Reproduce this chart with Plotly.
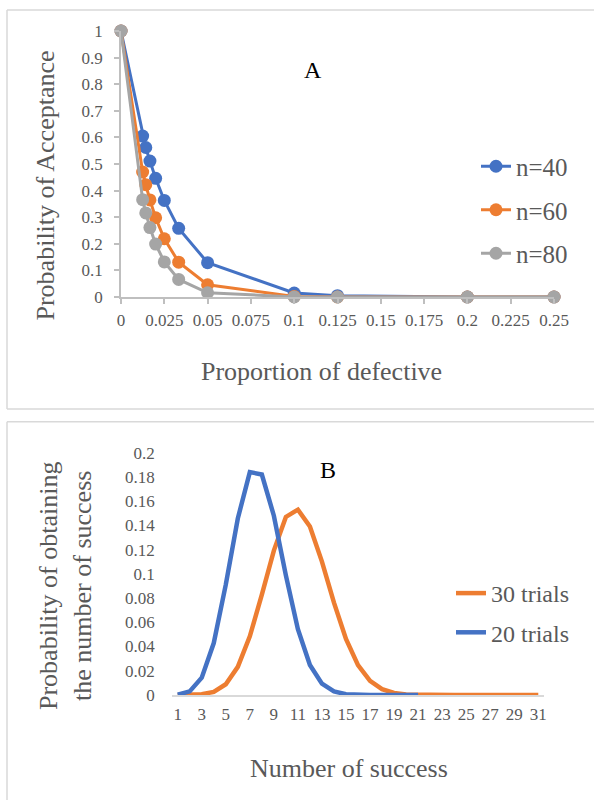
import plotly.graph_objects as go

# ---------------- Data: panel A (operating characteristic curves) ----------------
p_defective = [0, 0.0125, 0.0143, 0.0167, 0.02, 0.025, 0.0333, 0.05, 0.1, 0.125, 0.2, 0.25]
pa_n40 = [1, 0.605, 0.562, 0.511, 0.446, 0.363, 0.258, 0.129, 0.015, 0.005, 0.000, 0.000]
pa_n60 = [1, 0.470, 0.422, 0.365, 0.298, 0.219, 0.131, 0.046, 0.002, 0.000, 0.000, 0.000]
pa_n80 = [1, 0.366, 0.316, 0.261, 0.199, 0.132, 0.066, 0.016, 0.000, 0.000, 0.000, 0.000]
series_a = ["n=40", "n=60", "n=80"]
xticks_a = [0, 0.025, 0.05, 0.075, 0.1, 0.125, 0.15, 0.175, 0.2, 0.225, 0.25]
xticktext_a = ["0", "0.025", "0.05", "0.075", "0.1", "0.125", "0.15", "0.175", "0.2", "0.225", "0.25"]
yticks_a = [0, 0.1, 0.2, 0.3, 0.4, 0.5, 0.6, 0.7, 0.8, 0.9, 1]
yticktext_a = ["0", "0.1", "0.2", "0.3", "0.4", "0.5", "0.6", "0.7", "0.8", "0.9", "1"]

# ---------------- Data: panel B (binomial probabilities) ----------------
successes_30 = [1, 2, 3, 4, 5, 6, 7, 8, 9, 10, 11, 12, 13, 14, 15, 16, 17, 18, 19, 20,
                21, 22, 23, 24, 25, 26, 27, 28, 29, 30, 31]
successes_20 = [1, 2, 3, 4, 5, 6, 7, 8, 9, 10, 11, 12, 13, 14, 15, 16, 17, 18, 19, 20, 21]
prob_30 = [0.0000, 0.0001, 0.0006, 0.0026, 0.0089, 0.0232, 0.0484, 0.0829, 0.1192, 0.147,
           0.153, 0.1391, 0.1101, 0.0762, 0.0463, 0.0247, 0.0116, 0.0048, 0.0017, 0.0005,
           0.0002, 0, 0, 0, 0, 0, 0, 0, 0, 0, 0]
prob_20 = [0.0003, 0.003, 0.0143, 0.0429, 0.0911, 0.1457, 0.184, 0.182, 0.148, 0.0987,
           0.0543, 0.0247, 0.0093, 0.0029, 0.0007, 0.0001, 0, 0, 0, 0, 0]
series_b = ["30 trials", "20 trials"]
xticks_b = [1, 3, 5, 7, 9, 11, 13, 15, 17, 19, 21, 23, 25, 27, 29, 31]
xticktext_b = ["1", "3", "5", "7", "9", "11", "13", "15", "17", "19", "21", "23", "25", "27", "29", "31"]
yticks_b = [0, 0.02, 0.04, 0.06, 0.08, 0.1, 0.12, 0.14, 0.16, 0.18, 0.2]
yticktext_b = ["0", "0.02", "0.04", "0.06", "0.08", "0.1", "0.12", "0.14", "0.16", "0.18", "0.2"]

# ---------------- Styling ----------------
W, H = 594, 800
FONT = "Liberation Serif"
GRAY_TXT = "#595959"
BLUE, ORANGE, GRAY = "#4472C4", "#ED7D31", "#A5A5A5"
BORDER = "#D9D9D9"


def fx(px):
    return px / W


def fy(py):
    return 1 - py / H


fig = go.Figure()

for name, vals, col in zip(series_a, [pa_n40, pa_n60, pa_n80], [BLUE, ORANGE, GRAY]):
    fig.add_trace(go.Scatter(
        x=p_defective, y=vals, name=name, mode="lines+markers",
        line=dict(color=col, width=3), marker=dict(color=col, size=13),
        xaxis="x", yaxis="y", legend="legend", legendgroup=name, cliponaxis=False,
    ))

for name, xs, vals, col in zip(series_b, [successes_30, successes_20], [prob_30, prob_20], [ORANGE, BLUE]):
    fig.add_trace(go.Scatter(
        x=xs, y=vals, name=name, mode="lines",
        line=dict(color=col, width=4.5),
        xaxis="x2", yaxis="y2", legend="legend2", legendgroup=name, cliponaxis=False,
    ))

tickfont = dict(family=FONT, size=17, color=GRAY_TXT)


def border(x0, y0, x1, y1):
    return dict(type="line", xref="paper", yref="paper", x0=fx(x0), y0=fy(y0), x1=fx(x1), y1=fy(y1),
                line=dict(color=BORDER, width=1.5), layer="below")


fig.update_layout(
    width=W, height=H, autosize=False,
    margin=dict(l=0, r=0, t=0, b=0, pad=0, autoexpand=False),
    paper_bgcolor="white", plot_bgcolor="white",
    font=dict(family=FONT, color=GRAY_TXT),
    xaxis=dict(domain=[fx(121), fx(554)], range=[0, 0.25], tickvals=xticks_a, ticktext=xticktext_a,
               showgrid=False, zeroline=False, showline=True, linecolor="#BFBFBF", linewidth=1.5,
               ticks="outside", ticklen=5, tickcolor="#BFBFBF", tickwidth=1.5, tickfont=tickfont,
               anchor="y", ticklabelstandoff=2, automargin=False, fixedrange=True),
    yaxis=dict(domain=[fy(297), fy(31)], range=[0, 1], tickvals=yticks_a, ticktext=yticktext_a,
               showgrid=False, zeroline=False, showline=True, linecolor="#BFBFBF", linewidth=1.5,
               ticks="outside", ticklen=5, tickcolor="#BFBFBF", tickwidth=1.5, tickfont=tickfont,
               anchor="x", ticklabelstandoff=8, automargin=False, fixedrange=True),
    xaxis2=dict(domain=[fx(171.7), fx(544.3)], range=[0.5, 31.5], tickvals=xticks_b, ticktext=xticktext_b,
                showgrid=False, zeroline=False, showline=True, linecolor=BORDER, linewidth=1.5,
                ticks="", tickfont=tickfont, anchor="y2", ticklabelstandoff=3, automargin=False,
                fixedrange=True),
    yaxis2=dict(domain=[fy(695), fy(452.7)], range=[0, 0.2], tickvals=yticks_b, ticktext=yticktext_b,
                showgrid=False, zeroline=False, showline=False,
                ticks="", tickfont=tickfont, anchor="x2", ticklabelstandoff=16, automargin=False,
                fixedrange=True),
    legend=dict(x=fx(476), y=fy(210), xanchor="left", yanchor="middle",
                font=dict(family=FONT, size=25, color=GRAY_TXT), bgcolor="rgba(0,0,0,0)",
                tracegroupgap=8),
    legend2=dict(x=fx(451), y=fy(613), xanchor="left", yanchor="middle",
                 font=dict(family=FONT, size=24, color=GRAY_TXT), bgcolor="rgba(0,0,0,0)",
                 tracegroupgap=5),
    shapes=[
        border(7, 10, 594, 10), border(7, 10, 7, 409), border(7, 409, 594, 409),
        border(7, 421.7, 594, 421.7), border(7, 421.7, 7, 800),
    ],
    annotations=[
        dict(text="Probability of Acceptance", x=fx(45), y=fy(185.5), xref="paper", yref="paper",
             textangle=-90, showarrow=False, xanchor="center", yanchor="middle",
             font=dict(family=FONT, size=26, color=GRAY_TXT)),
        dict(text="Proportion of defective", x=fx(321.5), y=fy(371), xref="paper", yref="paper",
             showarrow=False, xanchor="center", yanchor="middle",
             font=dict(family=FONT, size=26, color=GRAY_TXT)),
        dict(text="A", x=fx(312.5), y=fy(70), xref="paper", yref="paper",
             showarrow=False, xanchor="center", yanchor="middle",
             font=dict(family=FONT, size=24, color="black")),
        dict(text="Probability of obtaining<br>the number of success", x=fx(65), y=fy(586),
             xref="paper", yref="paper", textangle=-90, showarrow=False,
             xanchor="center", yanchor="middle",
             font=dict(family=FONT, size=26, color=GRAY_TXT)),
        dict(text="Number of success", x=fx(349), y=fy(768), xref="paper", yref="paper",
             showarrow=False, xanchor="center", yanchor="middle",
             font=dict(family=FONT, size=26, color=GRAY_TXT)),
        dict(text="B", x=fx(327.5), y=fy(470), xref="paper", yref="paper",
             showarrow=False, xanchor="center", yanchor="middle",
             font=dict(family=FONT, size=24, color="black")),
    ],
)

fig.write_html("out.html",
               config={"displayModeBar": False},
               post_script="document.body.style.margin='0px';document.body.style.padding='0px';")
